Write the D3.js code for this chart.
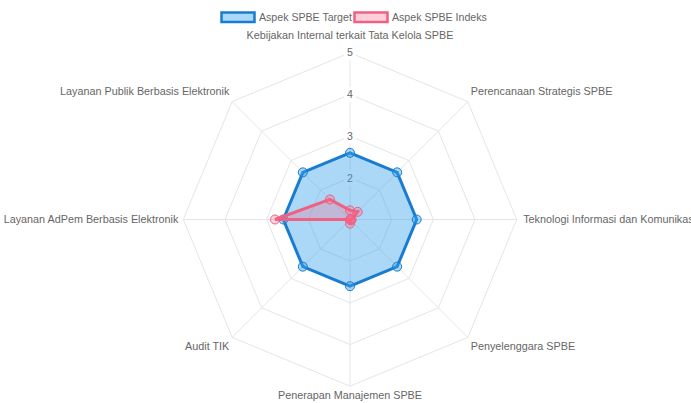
<!DOCTYPE html>
<html>
<head>
<meta charset="utf-8">
<script src="https://cdn.jsdelivr.net/npm/d3@7"></script>
<style>
  body { margin: 0; background: #fff; }
  svg text { font-family: Arial, Helvetica, "Liberation Sans", sans-serif; fill: #666; }
</style>
</head>
<body>
<svg id="chart" width="691" height="403"></svg>
<script>
// aspek SPBE (clockwise from top)
const aspekLabels = [
  'Kebijakan Internal terkait Tata Kelola SPBE',
  'Perencanaan Strategis SPBE',
  'Teknologi Informasi dan Komunikasi',
  'Penyelenggara SPBE',
  'Penerapan Manajemen SPBE',
  'Audit TIK',
  'Layanan AdPem Berbasis Elektronik',
  'Layanan Publik Berbasis Elektronik'
];
const targetValues = [2.6, 2.6, 2.6, 2.6, 2.6, 2.6, 2.6, 2.6];
const indeksValues = [1.22, 1.26, 1.04, 1.03, 1.1, 1.0, 2.8, 1.68];
const tickValues = [1, 2, 3, 4, 5];
const seriesNames = ['Aspek SPBE Target', 'Aspek SPBE Indeks'];

const svg = d3.select('#chart');
const cx = 350, cy = 219.5, R = 166.7;
const blue = 'rgb(25,124,210)', blueFill = 'rgba(54,162,235,0.42)';
const red = 'rgb(240,96,128)', redFill = 'rgba(255,99,132,0.27)';

const r = d3.scaleLinear().domain([1, 5]).range([0, R]);
const angle = d3.scaleLinear().domain([0, aspekLabels.length]).range([0, 2 * Math.PI]);

function pt(i, v) {
  const a = angle(i);
  return [cx + r(v) * Math.sin(a), cy - r(v) * Math.cos(a)];
}

// grid rings
const g = svg.append('g');
g.selectAll('polygon.ring')
  .data(tickValues.slice(1))
  .enter()
  .append('polygon')
  .attr('class', 'ring')
  .attr('points', v => aspekLabels.map((d, i) => pt(i, v).join(',')).join(' '))
  .attr('fill', 'none')
  .attr('stroke', '#e5e5e5')
  .attr('stroke-width', 1);

// spokes
g.selectAll('line.spoke')
  .data(aspekLabels)
  .enter()
  .append('line')
  .attr('class', 'spoke')
  .attr('x1', cx).attr('y1', cy)
  .attr('x2', (d, i) => pt(i, 5)[0])
  .attr('y2', (d, i) => pt(i, 5)[1])
  .attr('stroke', '#e5e5e5');

// tick labels with backdrop
const tk = g.selectAll('g.tick')
  .data(tickValues.slice(1))
  .enter()
  .append('g')
  .attr('class', 'tick')
  .attr('transform', v => `translate(${cx},${cy - r(v)})`);
tk.append('rect')
  .attr('x', -6).attr('y', -7.5).attr('width', 12).attr('height', 15)
  .attr('fill', '#fff');
tk.append('text')
  .attr('text-anchor', 'middle')
  .attr('dy', '0.35em')
  .style('font-size', '10.5px')
  .text(v => v);

// point labels
svg.selectAll('text.plabel')
  .data(aspekLabels)
  .enter()
  .append('text')
  .attr('class', 'plabel')
  .style('font-size', '10.8px')
  .attr('text-anchor', (d, i) => {
    const s = Math.sin(angle(i));
    return Math.abs(s) < 0.01 ? 'middle' : (s > 0 ? 'start' : 'end');
  })
  .attr('x', (d, i) => {
    const s = Math.sin(angle(i));
    return cx + (R + 4) * s + (Math.abs(s) > 0.99 ? (s > 0 ? 2.5 : -1) : 0);
  })
  .attr('y', (d, i) => {
    const c = Math.cos(angle(i));
    let y = cy - (R + 6) * c;
    if (c > 0.9) y -= 12;
    else if (c > 0.1) y -= 6;
    else if (c < -0.9) y += 3;
    else if (c < -0.1) y += 5;
    return y;
  })
  .attr('dy', '0.35em')
  .text(d => d);

// datasets
const datasets = [
  { name: seriesNames[0], values: targetValues, stroke: blue, fill: blueFill },
  { name: seriesNames[1], values: indeksValues, stroke: red, fill: redFill }
];

const line = d3.lineRadial()
  .angle((d, i) => angle(i))
  .radius(d => r(d))
  .curve(d3.curveLinearClosed);

const ds = svg.selectAll('g.ds')
  .data(datasets)
  .enter()
  .append('g')
  .attr('class', 'ds')
  .attr('transform', `translate(${cx},${cy})`);

ds.append('path')
  .attr('d', d => line(d.values))
  .attr('fill', d => d.fill)
  .attr('stroke', d => d.stroke)
  .attr('stroke-width', 3)
  .attr('stroke-linejoin', 'miter');

ds.selectAll('circle')
  .data(d => d.values.map((v, i) => ({ v, i, d })))
  .enter()
  .append('circle')
  .attr('cx', p => r(p.v) * Math.sin(angle(p.i)))
  .attr('cy', p => -r(p.v) * Math.cos(angle(p.i)))
  .attr('r', 4.5)
  .attr('fill', p => p.d.fill)
  .attr('stroke', p => p.d.stroke)
  .attr('stroke-width', 1);

// legend
const legend = svg.append('g');
const legendX = [221, 354];
datasets.forEach((d, i) => {
  const lg = legend.append('g').attr('transform', `translate(${legendX[i]},12)`);
  lg.append('rect')
    .attr('x', 0.5).attr('y', 0.5).attr('width', 33).attr('height', 9.5)
    .attr('fill', i === 0 ? 'rgba(54,162,235,0.42)' : 'rgba(255,99,132,0.3)')
    .attr('stroke', d.stroke)
    .attr('stroke-width', 2.5);
  lg.append('text')
    .attr('x', 38).attr('y', 5.5)
    .attr('dy', '0.35em')
    .style('font-size', '10.6px')
    .text(d.name);
});
</script>
</body>
</html>
